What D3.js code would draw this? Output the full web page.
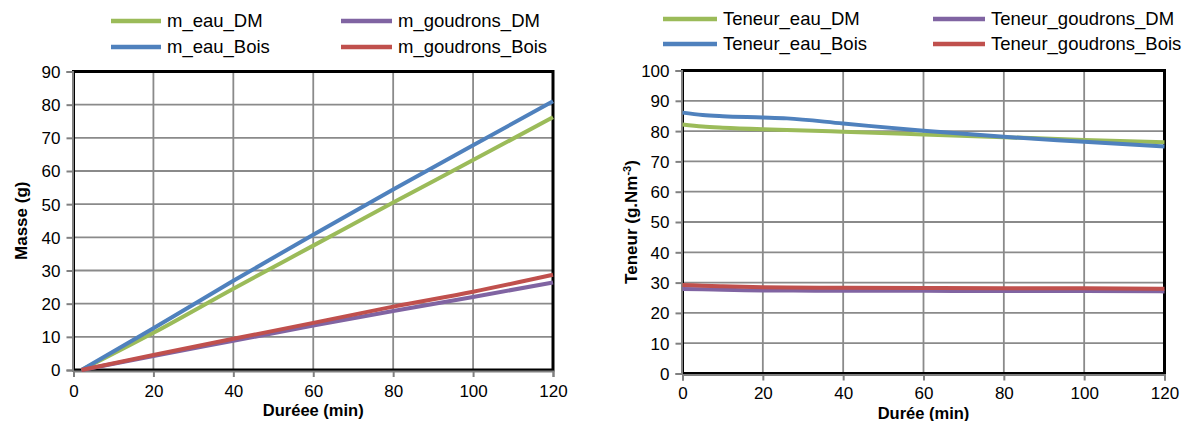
<!DOCTYPE html>
<html><head><meta charset="utf-8">
<script src="https://cdn.jsdelivr.net/npm/d3@7"></script>
<style>
body{margin:0;background:#fff;}
text{font-family:"Liberation Sans",Arial,sans-serif;}
</style></head><body>
<svg id="c" width="1184" height="421"></svg>
<script>
// ---- Data ----
const timesLeft = [2, 20, 40, 60, 80, 100, 120];
const m_eau_DM = [0, 11.2, 24.5, 37.5, 50.5, 63.3, 76.2];
const m_eau_Bois = [0, 12.6, 26.9, 40.8, 54.4, 67.8, 81.0];
const m_goudrons_DM = [0, 4.2, 8.8, 13.4, 17.8, 22.0, 26.4];
const m_goudrons_Bois = [0, 4.5, 9.4, 14.2, 19.1, 23.6, 28.7];

const timesRight = [0, 5, 10, 20, 26, 40, 60, 80, 100, 120];
const Teneur_eau_DM = [82.2, 81.5, 81.1, 80.6, 80.4, 79.8, 78.9, 78.0, 77.1, 76.3];
const Teneur_eau_Bois = [86.1, 85.3, 84.9, 84.5, 84.2, 82.5, 80.1, 78.1, 76.5, 74.9];
const Teneur_goudrons_DM = [27.9, 27.8, 27.6, 27.4, 27.4, 27.3, 27.3, 27.2, 27.2, 27.1];
const Teneur_goudrons_Bois = [29.2, 29.0, 28.8, 28.5, 28.4, 28.3, 28.2, 28.1, 28.1, 28.0];

const xTicks = [0, 20, 40, 60, 80, 100, 120];
const yTicksLeft = [0, 10, 20, 30, 40, 50, 60, 70, 80, 90];
const yTicksRight = [0, 10, 20, 30, 40, 50, 60, 70, 80, 90, 100];

const colors = {green:"#9BBB59", blue:"#4F81BD", purple:"#8064A2", red:"#C0504D"};

const svg = d3.select("#c");

function chart(cfg){
  const g = svg.append("g");
  const x = d3.scaleLinear().domain([0,120]).range([cfg.x0, cfg.x1]);
  const y = d3.scaleLinear().domain([0, cfg.ymax]).range([cfg.y0, cfg.y1]);
  // gridlines
  g.append("g").selectAll("line.v").data(xTicks.slice(1,-1)).join("line")
    .attr("x1", d=>x(d)).attr("x2", d=>x(d)).attr("y1", cfg.y0).attr("y2", cfg.y1)
    .attr("stroke","#8a8a8a").attr("stroke-width",1.8);
  g.append("g").selectAll("line.h").data(cfg.yTicks.slice(1,-1)).join("line")
    .attr("x1", cfg.x0).attr("x2", cfg.x1).attr("y1", d=>y(d)).attr("y2", d=>y(d))
    .attr("stroke","#8a8a8a").attr("stroke-width",1.8);
  // frame
  g.append("rect").attr("x",cfg.x0).attr("y",cfg.y1).attr("width",cfg.x1-cfg.x0).attr("height",cfg.y0-cfg.y1)
    .attr("fill","none").attr("stroke","#000").attr("stroke-width",3);
  // axes (gray)
  const yAxis = d3.axisLeft(y).tickValues(cfg.yTicks).tickSize(6).tickPadding(6).tickFormat(d3.format("d"));
  const xAxis = d3.axisBottom(x).tickValues(xTicks).tickSize(6).tickPadding(cfg.xPad).tickFormat(d3.format("d"));
  const ya = g.append("g").attr("transform",`translate(${cfg.x0-1},0)`).call(yAxis);
  const xa = g.append("g").attr("transform",`translate(0,${cfg.y0+1})`).call(xAxis);
  [ya,xa].forEach(a=>{
    a.select(".domain").attr("stroke","#808080").attr("stroke-width",2);
    a.selectAll(".tick line").attr("stroke","#808080").attr("stroke-width",2);
    a.selectAll(".tick text").attr("font-size",17).attr("fill","#000")
      .style("font-family","'Liberation Sans',Arial,sans-serif");
  });
  ya.selectAll(".tick text").attr("dy","0.35em");
  // lines
  const line = d3.line().x(d=>x(d[0])).y(d=>y(d[1])).curve(d3.curveMonotoneX);
  cfg.series.forEach(s=>{
    g.append("path").datum(cfg.times.map((t,i)=>[t,s.values[i]]))
      .attr("d",line).attr("fill","none").attr("stroke",s.color).attr("stroke-width",4)
      .attr("stroke-linecap","butt");
  });
  // legend
  cfg.legend.forEach(l=>{
    g.append("line").attr("x1",l.lx).attr("x2",l.lx+l.lw).attr("y1",l.ly).attr("y2",l.ly)
      .attr("stroke",l.color).attr("stroke-width",4.5);
    g.append("text").attr("x",l.lx+l.lw+6).attr("y",l.ly).attr("dy","0.35em")
      .attr("font-size",18.5).text(l.name);
  });
  // axis titles
  g.append("text").attr("x",(cfg.x0+cfg.x1)/2).attr("y",cfg.xTitleY).attr("text-anchor","middle")
    .attr("font-size",16.5).attr("font-weight","bold").text(cfg.xTitle);
  const yt = g.append("text").attr("transform",`translate(${cfg.yTitleX},${(cfg.y0+cfg.y1)/2}) rotate(-90)`)
    .attr("text-anchor","middle").attr("font-size",17).attr("font-weight","bold");
  cfg.yTitle(yt);
}

chart({
  x0:73.5, x1:553, y0:370, y1:71.5, ymax:90, yTicks:yTicksLeft, times:timesLeft, xPad:8,
  series:[
    {values:m_eau_DM, color:colors.green},
    {values:m_eau_Bois, color:colors.blue},
    {values:m_goudrons_DM, color:colors.purple},
    {values:m_goudrons_Bois, color:colors.red}
  ],
  legend:[
    {name:"m_eau_DM", color:colors.green, lx:111, lw:50, ly:21},
    {name:"m_eau_Bois", color:colors.blue, lx:111, lw:50, ly:47},
    {name:"m_goudrons_DM", color:colors.purple, lx:341, lw:51, ly:21},
    {name:"m_goudrons_Bois", color:colors.red, lx:341, lw:51, ly:47}
  ],
  xTitle:"Duréee (min)", xTitleY:416, yTitleX:27,
  yTitle: t=>t.text("Masse (g)")
});

chart({
  x0:682.5, x1:1164.5, y0:373.5, y1:70.5, ymax:100, yTicks:yTicksRight, times:timesRight, xPad:6,
  series:[
    {values:Teneur_eau_DM, color:colors.green},
    {values:Teneur_eau_Bois, color:colors.blue},
    {values:Teneur_goudrons_DM, color:colors.purple},
    {values:Teneur_goudrons_Bois, color:colors.red}
  ],
  legend:[
    {name:"Teneur_eau_DM", color:colors.green, lx:663, lw:54, ly:19},
    {name:"Teneur_eau_Bois", color:colors.blue, lx:663, lw:54, ly:44},
    {name:"Teneur_goudrons_DM", color:colors.purple, lx:933, lw:52, ly:19},
    {name:"Teneur_goudrons_Bois", color:colors.red, lx:933, lw:52, ly:44}
  ],
  xTitle:"Durée (min)", xTitleY:419, yTitleX:637,
  yTitle: t=>{ t.append("tspan").text("Teneur (g.Nm");
    t.append("tspan").attr("font-size",11).attr("dy",-6).text("-3");
    t.append("tspan").attr("dy",6).text(")"); }
});
</script>
</body></html>
